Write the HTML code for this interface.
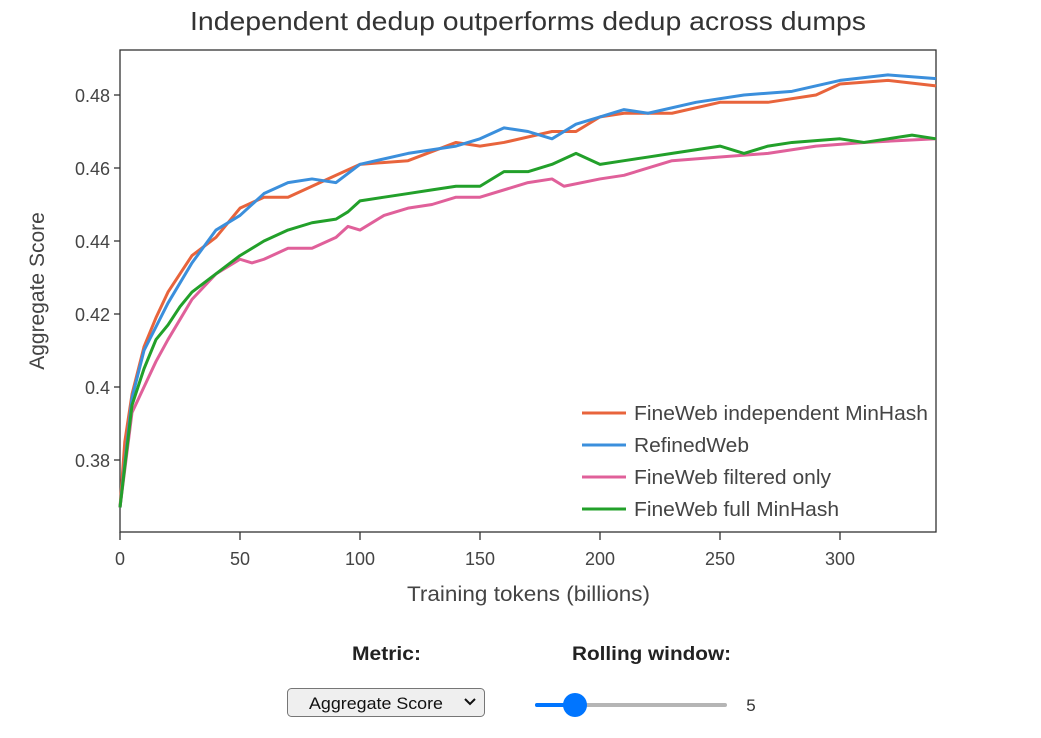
<!DOCTYPE html>
<html><head><style>
body{margin:0;background:#fff;width:1041px;height:738px;overflow:hidden;font-family:"Liberation Sans",sans-serif;}
</style></head><body>
<svg width="1041" height="738" xmlns="http://www.w3.org/2000/svg" style="position:absolute;left:0;top:0">
<text x="190" y="30" textLength="676" lengthAdjust="spacingAndGlyphs" font-size="26" fill="#333">Independent dedup outperforms dedup across dumps</text>
<rect x="120" y="50" width="816" height="482" fill="none" stroke="#333" stroke-width="1.3"/>
<g font-size="18" fill="#444" text-anchor="end">
<text x="110" y="102">0.48</text><text x="110" y="175">0.46</text><text x="110" y="248">0.44</text>
<text x="110" y="321">0.42</text><text x="110" y="394">0.4</text><text x="110" y="467">0.38</text>
</g>
<g stroke="#333" stroke-width="1.3">
<line x1="114" y1="95" x2="120" y2="95"/><line x1="114" y1="168" x2="120" y2="168"/><line x1="114" y1="241" x2="120" y2="241"/>
<line x1="114" y1="314" x2="120" y2="314"/><line x1="114" y1="387" x2="120" y2="387"/><line x1="114" y1="460" x2="120" y2="460"/>
<line x1="120" y1="532" x2="120" y2="540"/><line x1="240" y1="532" x2="240" y2="540"/><line x1="360" y1="532" x2="360" y2="540"/>
<line x1="480" y1="532" x2="480" y2="540"/><line x1="600" y1="532" x2="600" y2="540"/><line x1="720" y1="532" x2="720" y2="540"/><line x1="840" y1="532" x2="840" y2="540"/>
</g>
<g font-size="18" fill="#444" text-anchor="middle">
<text x="120" y="565">0</text><text x="240" y="565">50</text><text x="360" y="565">100</text><text x="480" y="565">150</text>
<text x="600" y="565">200</text><text x="720" y="565">250</text><text x="840" y="565">300</text>
</g>
<text x="407" y="601" textLength="243" lengthAdjust="spacingAndGlyphs" font-size="21" fill="#444">Training tokens (billions)</text>
<text transform="translate(44,291) rotate(-90)" text-anchor="middle" font-size="21" fill="#444">Aggregate Score</text>
<g transform="matrix(2.4 0 0 -3.65 120 1847)" fill="none" stroke-width="3" stroke-linejoin="round">
<polyline vector-effect="non-scaling-stroke" stroke="#e8643c" points="0,367 2,385 5,398 10,411 15,419 20,426 25,431 30,436 40,441 50,449 60,452 70,452 80,455 90,458 100,461 120,462 140,467 150,466 160,467 180,470 190,470 200,474 210,475 230,475 250,478 270,478 290,480 300,483 320,484 340,482.5"/>
<polyline vector-effect="non-scaling-stroke" stroke="#3b8fdc" points="0,367 5,397 10,410 20,423 30,434 40,443 50,447 60,453 70,456 80,457 90,456 100,461 120,464 140,466 150,468 160,471 170,470 180,468 190,472 200,474 210,476 220,475 240,478 260,480 280,481 300,484 320,485.5 340,484.5"/>
<polyline vector-effect="non-scaling-stroke" stroke="#e0609a" points="0,367 5,393 10,400 15,407 20,413 30,424 40,431 50,435 55,434 60,435 70,438 80,438 90,441 95,444 100,443 110,447 120,449 130,450 140,452 150,452 170,456 180,457 185,455 200,457 210,458 230,462 250,463 270,464 290,466 310,467 340,468"/>
<polyline vector-effect="non-scaling-stroke" stroke="#22a02a" points="0,367 5,395 10,405 15,413 20,417 25,422 30,426 40,431 50,436 60,440 70,443 80,445 90,446 95,448 100,451 110,452 120,453 130,454 140,455 150,455 160,459 170,459 180,461 190,464 200,461 210,462 220,463 230,464 250,466 260,464 270,466 280,467 300,468 310,467 320,468 330,469 340,468"/>
</g>
<g stroke-width="3">
<line x1="582" y1="413" x2="626" y2="413" stroke="#e8643c"/>
<line x1="582" y1="445" x2="626" y2="445" stroke="#3b8fdc"/>
<line x1="582" y1="477" x2="626" y2="477" stroke="#e0609a"/>
<line x1="582" y1="509" x2="626" y2="509" stroke="#22a02a"/>
</g>
<g font-size="20" fill="#444">
<text x="634" y="420" textLength="294" lengthAdjust="spacingAndGlyphs">FineWeb independent MinHash</text>
<text x="634" y="452" textLength="115" lengthAdjust="spacingAndGlyphs">RefinedWeb</text>
<text x="634" y="484" textLength="197" lengthAdjust="spacingAndGlyphs">FineWeb filtered only</text>
<text x="634" y="516" textLength="205" lengthAdjust="spacingAndGlyphs">FineWeb full MinHash</text>
</g>
<text x="352" y="660" textLength="69" lengthAdjust="spacingAndGlyphs" font-size="19" font-weight="bold" fill="#222">Metric:</text>
<text x="572" y="660" textLength="159" lengthAdjust="spacingAndGlyphs" font-size="19" font-weight="bold" fill="#222">Rolling window:</text>
<rect x="287.5" y="688.5" width="197" height="28" rx="4" fill="#efefef" stroke="#767676"/>
<text x="309" y="709" textLength="134" lengthAdjust="spacingAndGlyphs" font-size="17" fill="#111">Aggregate Score</text>
<path d="M465 699 l5 5 l5 -5" fill="none" stroke="#111" stroke-width="2"/>
<rect x="535" y="703" width="192" height="4" rx="2" fill="#b5b5b5"/>
<rect x="535" y="703" width="40" height="4" rx="2" fill="#0075ff"/>
<circle cx="575" cy="705" r="12" fill="#0075ff"/>
<text x="751" y="711" text-anchor="middle" font-size="17" fill="#333">5</text>
</svg>
</body></html>
